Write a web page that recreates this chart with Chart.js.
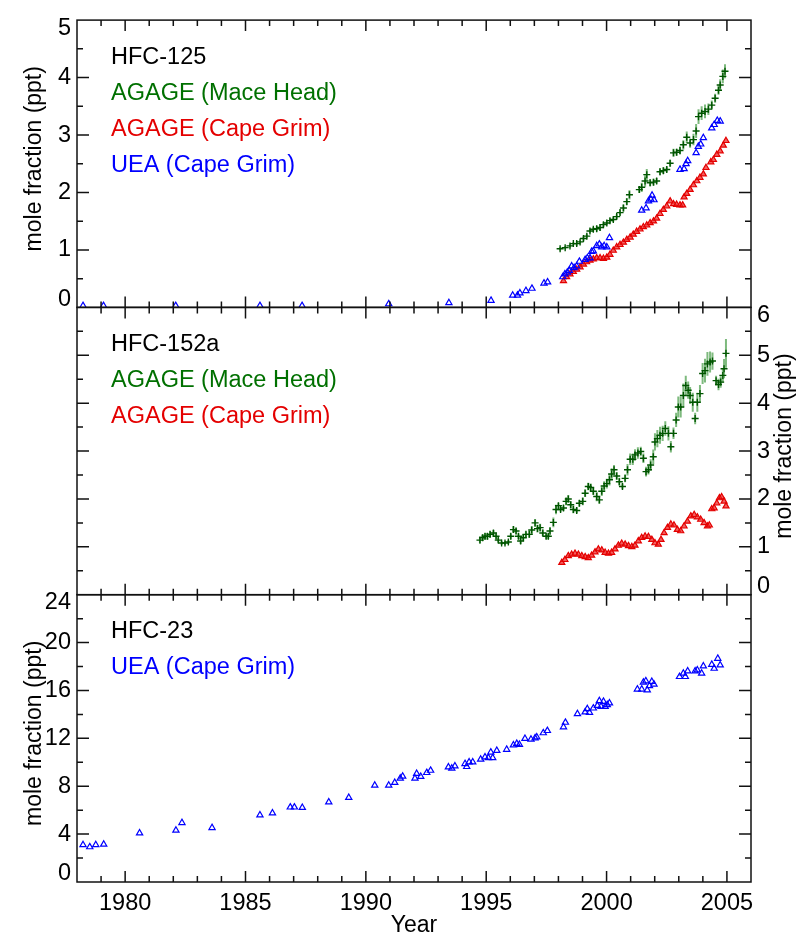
<!DOCTYPE html>
<html>
<head>
<meta charset="utf-8">
<script src="https://cdn.jsdelivr.net/npm/chart.js@4"></script>
<style>
html, body { margin: 0; padding: 0; background: #fff; }
</style>
</head>
<body>
<canvas id="chart_hfc" width="796" height="937"></canvas>
<script>
// ---- data (decimal years, ppt) ----
var xTicks = [1980, 1985, 1990, 1995, 2000, 2005];
var y1Ticks = [0, 1, 2, 3, 4, 5];
var y2Ticks = [0, 1, 2, 3, 4, 5, 6];
var y3Ticks = [0, 4, 8, 12, 16, 20, 24];

var panel1Text = ['HFC-125', 'AGAGE (Mace Head)', 'AGAGE (Cape Grim)', 'UEA (Cape Grim)'];
var panel2Text = ['HFC-152a', 'AGAGE (Mace Head)', 'AGAGE (Cape Grim)'];
var panel3Text = ['HFC-23', 'UEA (Cape Grim)'];
var yTitle = 'mole fraction (ppt)';

// HFC-125, AGAGE Mace Head
var mh125Year = [1998.07, 1998.28, 1998.48, 1998.62, 1998.76, 1998.90, 1999.04, 1999.18, 1999.31, 1999.45,
	1999.59, 1999.73, 1999.87, 2000.01, 2000.14, 2000.28, 2000.42, 2000.56, 2000.70, 2000.84,
	2000.95, 2001.36, 2001.46, 2001.60, 2001.67, 2001.81, 2001.95, 2002.08, 2002.22, 2002.36,
	2002.50, 2002.64, 2002.78, 2002.91, 2003.05, 2003.19, 2003.33, 2003.47, 2003.61, 2003.72,
	2003.82, 2003.95, 2004.09, 2004.23, 2004.37, 2004.51, 2004.65, 2004.72, 2004.83, 2004.92];
var mh125Val = [1.02, 1.04, 1.07, 1.11, 1.11, 1.14, 1.20, 1.24, 1.33, 1.36,
	1.37, 1.39, 1.44, 1.47, 1.51, 1.53, 1.58, 1.65, 1.73, 1.84,
	1.96, 2.05, 2.09, 2.20, 2.31, 2.17, 2.18, 2.20, 2.36, 2.38,
	2.40, 2.51, 2.69, 2.70, 2.73, 2.83, 2.96, 2.86, 2.92, 3.07,
	3.32, 3.38, 3.41, 3.45, 3.52, 3.64, 3.78, 3.87, 4.02, 4.11];
var mh125Err = [0.03, 0.03, 0.03, 0.03, 0.04, 0.03, 0.04, 0.04, 0.04, 0.04,
	0.05, 0.06, 0.04, 0.04, 0.04, 0.04, 0.04, 0.05, 0.06, 0.06,
	0.08, 0.06, 0.08, 0.10, 0.10, 0.06, 0.06, 0.05, 0.06, 0.06,
	0.05, 0.06, 0.07, 0.06, 0.07, 0.08, 0.10, 0.08, 0.10, 0.12,
	0.13, 0.12, 0.12, 0.10, 0.08, 0.08, 0.08, 0.10, 0.12, 0.12];

// HFC-125, AGAGE Cape Grim
var cg125Year = [1998.21, 1998.34, 1998.48, 1998.62, 1998.76, 1998.90, 1999.04, 1999.17, 1999.31, 1999.45,
	1999.59, 1999.73, 1999.87, 2000.01, 2000.14, 2000.28, 2000.42, 2000.56, 2000.70, 2000.84,
	2000.98, 2001.11, 2001.25, 2001.39, 2001.53, 2001.67, 2001.81, 2001.95, 2002.08, 2002.22,
	2002.36, 2002.50, 2002.64, 2002.78, 2002.91, 2003.05, 2003.16, 2003.22, 2003.33, 2003.47,
	2003.61, 2003.75, 2003.88, 2004.02, 2004.13, 2004.33, 2004.44, 2004.58, 2004.72, 2004.85, 2004.96];
var cg125Val = [0.46, 0.53, 0.58, 0.62, 0.66, 0.70, 0.75, 0.79, 0.82, 0.84,
	0.86, 0.86, 0.85, 0.87, 0.92, 0.99, 1.05, 1.09, 1.13, 1.18,
	1.22, 1.27, 1.32, 1.36, 1.40, 1.43, 1.47, 1.50, 1.55, 1.63,
	1.70, 1.76, 1.85, 1.80, 1.79, 1.78, 1.78, 1.92, 1.98, 2.05,
	2.13, 2.20, 2.26, 2.32, 2.43, 2.53, 2.57, 2.66, 2.72, 2.82, 2.90];

// HFC-125, UEA Cape Grim
var uea125Year = [1978.25, 1979.10, 1982.10, 1985.60, 1987.35, 1990.95, 1993.45, 1995.20, 1996.10, 1996.30,
	1996.40, 1996.65, 1996.90, 1997.40, 1997.55, 1998.18, 1998.27, 1998.37, 1998.45, 1998.55,
	1998.65, 1998.76, 1998.87, 1999.11, 1999.20, 1999.31, 1999.38, 1999.45, 1999.59, 1999.70,
	1999.80, 1999.90, 2000.01, 2000.12, 2001.46, 2001.64, 2001.74, 2001.84, 2001.89, 2001.97,
	2003.05, 2003.22, 2003.30, 2003.37, 2003.72, 2003.81, 2003.91, 2004.02, 2004.37, 2004.47,
	2004.60, 2004.72];
var uea125Val = [0.03, 0.03, 0.03, 0.03, 0.03, 0.06, 0.08, 0.12, 0.21, 0.21,
	0.25, 0.29, 0.33, 0.42, 0.44, 0.53, 0.58, 0.61, 0.64, 0.72,
	0.69, 0.72, 0.80, 0.83, 0.86, 0.86, 0.97, 0.98, 1.07, 1.10,
	1.05, 1.07, 1.05, 1.21, 1.69, 1.73, 1.85, 1.88, 1.95, 1.87,
	2.40, 2.41, 2.50, 2.55, 2.69, 2.80, 2.84, 2.95, 3.12, 3.18,
	3.25, 3.24];

// HFC-152a, AGAGE Mace Head
var mh152Year = [1994.74, 1994.85, 1994.95, 1995.05, 1995.16, 1995.30, 1995.41, 1995.50, 1995.64, 1995.78,
	1995.92, 1996.02, 1996.13, 1996.24, 1996.34, 1996.43, 1996.54, 1996.65, 1996.79, 1996.89,
	1997.03, 1997.13, 1997.24, 1997.35, 1997.49, 1997.58, 1997.65, 1997.79, 1997.90, 1998.00,
	1998.09, 1998.21, 1998.32, 1998.41, 1998.51, 1998.62, 1998.76, 1998.87, 1999.01, 1999.11,
	1999.24, 1999.34, 1999.45, 1999.59, 1999.70, 1999.80, 1999.90, 2000.01, 2000.12, 2000.21,
	2000.31, 2000.42, 2000.53, 2000.66, 2000.77, 2000.87, 2000.98, 2001.09, 2001.18, 2001.30,
	2001.42, 2001.53, 2001.64, 2001.74, 2001.83, 2001.94, 2002.01, 2002.11, 2002.22, 2002.33,
	2002.44, 2002.57, 2002.67, 2002.78, 2002.89, 2002.98, 2003.08, 2003.19, 2003.29, 2003.39,
	2003.47, 2003.58, 2003.68, 2003.77, 2003.88, 2003.99, 2004.09, 2004.19, 2004.30, 2004.40,
	2004.55, 2004.65, 2004.74, 2004.83, 2004.88, 2004.96];
var mh152Val = [1.14, 1.19, 1.22, 1.22, 1.26, 1.29, 1.22, 1.14, 1.08, 1.08,
	1.10, 1.22, 1.36, 1.33, 1.22, 1.12, 1.19, 1.26, 1.26, 1.35,
	1.50, 1.38, 1.40, 1.29, 1.22, 1.22, 1.33, 1.51, 1.78, 1.86,
	1.78, 1.81, 1.95, 2.00, 1.88, 1.78, 1.76, 1.91, 1.95, 2.12,
	2.26, 2.24, 2.16, 2.05, 1.98, 2.16, 2.27, 2.32, 2.40, 2.52,
	2.61, 2.48, 2.36, 2.26, 2.43, 2.61, 2.83, 2.83, 2.92, 2.96,
	2.99, 2.85, 2.57, 2.61, 2.71, 2.88, 3.19, 3.26, 3.33, 3.37,
	3.47, 3.37, 3.09, 3.37, 3.65, 3.92, 3.92, 4.16, 4.37, 4.27,
	4.16, 4.02, 3.68, 4.02, 4.20, 4.62, 4.68, 4.82, 4.86, 4.88,
	4.47, 4.39, 4.44, 4.58, 4.72, 5.04];
var mh152Err = [0.07, 0.07, 0.07, 0.07, 0.07, 0.06, 0.05, 0.05, 0.04, 0.04,
	0.04, 0.06, 0.07, 0.07, 0.06, 0.06, 0.06, 0.06, 0.07, 0.08,
	0.08, 0.08, 0.08, 0.07, 0.06, 0.06, 0.08, 0.10, 0.10, 0.06,
	0.05, 0.06, 0.08, 0.08, 0.07, 0.08, 0.06, 0.07, 0.08, 0.08,
	0.08, 0.08, 0.08, 0.10, 0.08, 0.10, 0.10, 0.10, 0.12, 0.12,
	0.10, 0.08, 0.08, 0.06, 0.08, 0.12, 0.12, 0.12, 0.12, 0.12,
	0.10, 0.10, 0.10, 0.10, 0.12, 0.15, 0.18, 0.18, 0.18, 0.16,
	0.15, 0.15, 0.12, 0.12, 0.15, 0.22, 0.22, 0.25, 0.20, 0.18,
	0.18, 0.20, 0.12, 0.20, 0.18, 0.22, 0.25, 0.25, 0.22, 0.18,
	0.10, 0.12, 0.12, 0.15, 0.20, 0.30];

// HFC-152a, AGAGE Cape Grim
var cg152Year = [1998.14, 1998.27, 1998.41, 1998.55, 1998.69, 1998.83, 1998.97, 1999.11, 1999.24, 1999.38,
	1999.52, 1999.66, 1999.80, 1999.94, 2000.08, 2000.21, 2000.35, 2000.49, 2000.63, 2000.77,
	2000.91, 2001.05, 2001.18, 2001.32, 2001.46, 2001.60, 2001.74, 2001.88, 2002.01, 2002.15,
	2002.26, 2002.39, 2002.53, 2002.67, 2002.80, 2002.94, 2003.08, 2003.22, 2003.36, 2003.50,
	2003.64, 2003.77, 2003.91, 2004.05, 2004.19, 2004.27, 2004.37, 2004.47, 2004.58, 2004.69,
	2004.78, 2004.88, 2004.96];
var cg152Val = [0.67, 0.73, 0.81, 0.84, 0.86, 0.84, 0.81, 0.79, 0.77, 0.82,
	0.89, 0.95, 0.93, 0.88, 0.86, 0.88, 0.95, 1.03, 1.07, 1.05,
	1.02, 1.00, 1.03, 1.12, 1.19, 1.22, 1.21, 1.15, 1.08, 1.05,
	1.15, 1.29, 1.40, 1.47, 1.45, 1.36, 1.33, 1.43, 1.53, 1.64,
	1.67, 1.62, 1.57, 1.50, 1.43, 1.45, 1.79, 1.81, 1.91, 2.02,
	2.04, 1.95, 1.85];

// HFC-23, UEA Cape Grim
var uea23Year = [1978.25, 1978.53, 1978.78, 1979.11, 1980.60, 1982.11, 1982.36, 1983.61, 1985.60, 1986.12,
	1986.86, 1987.03, 1987.36, 1988.46, 1989.29, 1990.37, 1990.95, 1991.20, 1991.43, 1991.53,
	1992.04, 1992.11, 1992.28, 1992.53, 1992.69, 1993.43, 1993.57, 1993.70, 1994.12, 1994.19,
	1994.29, 1994.44, 1994.77, 1994.95, 1995.09, 1995.19, 1995.27, 1995.44, 1995.85, 1996.13,
	1996.27, 1996.38, 1996.61, 1996.86, 1997.03, 1997.10, 1997.37, 1997.54, 1998.21, 1998.29,
	1998.79, 1999.11, 1999.20, 1999.29, 1999.45, 1999.62, 1999.70, 1999.77, 1999.87, 1999.94,
	2000.03, 2000.12, 2001.28, 2001.46, 2001.53, 2001.63, 2001.69, 2001.78, 2001.88, 2001.97,
	2003.03, 2003.19, 2003.27, 2003.37, 2003.68, 2003.77, 2003.95, 2004.02, 2004.37, 2004.47,
	2004.62, 2004.72];
var uea23Val = [3.10, 2.93, 3.10, 3.15, 4.09, 4.31, 4.95, 4.53, 5.59, 5.75,
	6.25, 6.25, 6.22, 6.67, 7.05, 8.08, 8.08, 8.30, 8.66, 8.83,
	8.66, 9.05, 8.80, 9.13, 9.32, 9.60, 9.49, 9.68, 9.88, 9.63,
	10.02, 10.02, 10.24, 10.43, 10.37, 10.84, 10.37, 10.98, 11.07, 11.43,
	11.56, 11.48, 11.98, 11.92, 12.03, 12.11, 12.45, 12.64, 12.95, 13.33,
	14.05, 14.19, 14.47, 14.16, 14.52, 14.74, 15.13, 14.66, 15.08, 14.66,
	14.80, 14.94, 16.10, 16.10, 16.68, 16.79, 16.04, 16.38, 16.74, 16.51,
	17.15, 17.43, 17.15, 17.62, 17.62, 17.70, 17.43, 18.04, 18.17, 17.84,
	18.67, 18.12];

// ---- helpers ----
var FONT = '"Liberation Sans", Helvetica, Arial, sans-serif';
var GREEN_TXT = 'rgb(0,112,0)', GREEN_PT = 'rgb(0,85,0)', GREEN_ERR = 'rgba(40,140,40,0.6)';
var RED = 'rgb(228,0,0)', BLUE = 'rgb(0,0,255)';

function pts(xs, ys){
	return xs.map(function(x, i){ return {x: x, y: ys[i]}; });
}
function errBars(xs, ys, es){
	var out = [];
	for(var i = 0; i < xs.length; i++){
		out.push({x: xs[i], y: ys[i] - es[i]}, {x: xs[i], y: ys[i] + es[i]}, {x: xs[i], y: null});
	}
	return out;
}
function greenSet(xs, ys, axis){
	return {type: 'scatter', data: pts(xs, ys), yAxisID: axis, order: 1,
		pointStyle: 'cross', pointRadius: 3.5, pointBorderWidth: 1.4,
		pointBorderColor: GREEN_PT, pointBackgroundColor: GREEN_PT};
}
function errSet(xs, ys, es, axis){
	return {type: 'line', data: errBars(xs, ys, es), yAxisID: axis, order: 3,
		borderColor: GREEN_ERR, borderWidth: 2, pointRadius: 0, spanGaps: false, fill: false};
}
function redSet(xs, ys, axis){
	return {type: 'scatter', data: pts(xs, ys), yAxisID: axis, order: 2,
		pointStyle: 'triangle', pointRadius: 3.5, pointBorderWidth: 1.2,
		pointBorderColor: RED, pointBackgroundColor: 'rgba(235,30,30,0.7)'};
}
function blueSet(xs, ys, axis){
	return {type: 'scatter', data: pts(xs, ys), yAxisID: axis, order: 0,
		pointStyle: 'triangle', pointRadius: 3.6, pointBorderWidth: 1.2,
		pointBorderColor: BLUE, pointBackgroundColor: 'rgba(255,255,255,0)'};
}
function yAxis(pos, weight, max, ticks, show){
	return {
		type: 'linear', position: pos, stack: 'panels', stackWeight: 1, weight: weight,
		min: 0, max: max,
		afterBuildTicks: function(ax){ ax.ticks = ticks.map(function(v){ return {value: v}; }); },
		afterFit: function(ax){ ax.width = pos == 'left' ? 77 : 45; },
		ticks: {display: show, autoSkip: false, color: '#000', padding: 6, font: {family: FONT, size: 23.5}},
		grid: {display: false, drawTicks: false},
		border: {display: false}
	};
}

var panels = [
	{axis: 'y1', ticks: y1Ticks, minor: 0.5, text: panel1Text, colors: ['#000', GREEN_TXT, RED, BLUE], title: 'left'},
	{axis: 'y2', ticks: y2Ticks, minor: 0.5, text: panel2Text, colors: ['#000', GREEN_TXT, RED], title: 'right'},
	{axis: 'y3', ticks: y3Ticks, minor: 2, text: panel3Text, colors: ['#000', BLUE], title: 'left'}
];

// frame, inward ticks, panel captions and side titles
var framePlugin = {
	id: 'frame',
	beforeDraw: function(chart){
		panels.forEach(function(p){
			var items = chart.scales[p.axis].getLabelItems();
			if(!items.length || items._nudged) return;
			items[0].options.translation[1] -= 8;
			items[items.length - 1].options.translation[1] += 8;
			items._nudged = true;
		});
	},
	afterDraw: function(chart){
		var ctx = chart.ctx, a = chart.chartArea, xs = chart.scales.x;
		ctx.save();
		ctx.strokeStyle = '#111';
		ctx.lineWidth = 1.5;
		panels.forEach(function(p){
			var ys = chart.scales[p.axis];
			var top = ys.top, bot = ys.bottom;
			ctx.strokeRect(a.left, top, a.right - a.left, bot - top);
			ctx.beginPath();
			for(var yr = 1979; yr <= 2005; yr++){
				var px = xs.getPixelForValue(yr);
				var len = xTicks.indexOf(yr) >= 0 ? 11 : 6;
				ctx.moveTo(px, top); ctx.lineTo(px, top + len);
				ctx.moveTo(px, bot); ctx.lineTo(px, bot - len);
			}
			var max = p.ticks[p.ticks.length - 1];
			for(var v = p.minor; v < max; v += p.minor){
				var py = ys.getPixelForValue(v);
				var l2 = p.ticks.indexOf(v) >= 0 ? 12 : 6;
				ctx.moveTo(a.left, py); ctx.lineTo(a.left + l2, py);
				ctx.moveTo(a.right, py); ctx.lineTo(a.right - l2, py);
			}
			ctx.stroke();

			ctx.font = '23.5px ' + FONT;
			ctx.textAlign = 'left';
			ctx.textBaseline = 'middle';
			p.text.forEach(function(t, i){
				ctx.fillStyle = p.colors[i];
				ctx.fillText(t, a.left + 34, top + 37 + i * 36.3);
			});

			ctx.save();
			ctx.font = '23px ' + FONT;
			ctx.translate(p.title == 'left' ? 35 : 785, (top + bot) / 2 - 5);
			ctx.rotate(-Math.PI / 2);
			ctx.textAlign = 'center';
			ctx.fillStyle = '#000';
			ctx.fillText(yTitle, 0, 0);
			ctx.restore();
		});
		ctx.restore();
	}
};

var ctx_c = document.getElementById('chart_hfc').getContext('2d');

var chart_hfc = new Chart(ctx_c, {
	type: 'scatter',
	data: {
		datasets: [
			greenSet(mh125Year, mh125Val, 'y1'),
			errSet(mh125Year, mh125Val, mh125Err, 'y1'),
			redSet(cg125Year, cg125Val, 'y1'),
			blueSet(uea125Year, uea125Val, 'y1'),
			greenSet(mh152Year, mh152Val, 'y2'),
			errSet(mh152Year, mh152Val, mh152Err, 'y2'),
			redSet(cg152Year, cg152Val, 'y2'),
			blueSet(uea23Year, uea23Val, 'y3')
		]
	},
	options: {
		responsive: false,
		animation: false,
		events: [],
		layout: {padding: {top: 14.5, left: 0, right: 0, bottom: 0}},
		plugins: {legend: {display: false}, tooltip: {enabled: false}},
		scales: {
			x: {
				type: 'linear', position: 'bottom', min: 1978, max: 2006,
				afterBuildTicks: function(ax){ ax.ticks = xTicks.map(function(v){ return {value: v}; }); },
				afterFit: function(ax){ ax.height = 55; },
				ticks: {color: '#000', padding: 7, maxRotation: 0, autoSkip: false, font: {family: FONT, size: 23.5},
					callback: function(v){ return String(v); }},
				grid: {display: false, drawTicks: false},
				border: {display: false},
				title: {display: true, text: 'Year', color: '#000', padding: {top: 0, bottom: 0},
					font: {family: FONT, size: 23, lineHeight: 1}}
			},
			y1: yAxis('left', 3, 5, y1Ticks, true),
			y2L: yAxis('left', 2, 6, y2Ticks, false),
			y3: yAxis('left', 1, 24, y3Ticks, true),
			y1R: yAxis('right', 1, 5, y1Ticks, false),
			y2: yAxis('right', 2, 6, y2Ticks, true),
			y3R: yAxis('right', 3, 24, y3Ticks, false)
		}
	},
	plugins: [framePlugin]
});
</script>
</body>
</html>
